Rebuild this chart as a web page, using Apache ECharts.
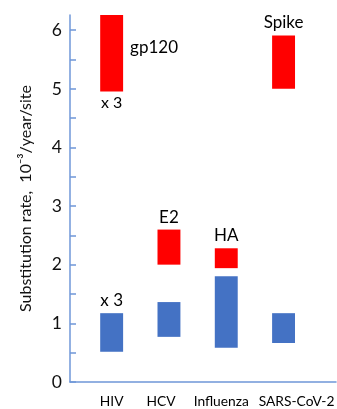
<!DOCTYPE html>
<html><head><meta charset="utf-8">
<script src="https://cdn.jsdelivr.net/npm/echarts@6/dist/echarts.min.js"></script>
<style>html,body{margin:0;padding:0;background:#fff}#c{width:337px;height:409px}</style>
</head><body><div id="c"></div>
<script>
var categories = ['HIV', 'HCV', 'Influenza', 'SARS-CoV-2'];
var redLow  = [4.95, 1.99, 1.93, 5.00];
var redHigh = [6.26, 2.59, 2.27, 5.91];
var blueLow  = [0.50, 0.755, 0.57, 0.65];
var blueHigh = [1.16, 1.35, 1.79, 1.16];
var redNotes = ['gp120', 'E2', 'HA', 'Spike'];
var redBelowNotes = ['x 3', '', '', ''];
var blueNotes = ['x 3', '', '', ''];
var yTickLabels = [0, 1, 2, 3, 4, 5, 6];
var yTicks = [0, 0.5, 1, 1.5, 2, 2.5, 3, 3.5, 4, 4.5, 5, 5.5, 6];

var FONT = 'Lato, "Open Sans", sans-serif';
var AXIS_COLOR = '#6f97d8';

function makeRender(color, topNotes, belowNotes) {
  return function (params, api) {
    var idx = api.value(0);
    var p1 = api.coord([idx, api.value(2)]);
    var p0 = api.coord([idx, api.value(1)]);
    var w = api.size([1, 0])[0] * 0.4;
    var x = p1[0] - w / 2, y = p1[1], h = p0[1] - p1[1];
    var children = [{
      type: 'rect', shape: {x: x, y: y, width: w, height: h},
      style: {fill: color}
    }];
    var note = topNotes[idx];
    if (note) {
      if (idx === 0 && color === '#ff0000') {
        children.push({type: 'text', style: {text: note, x: x + w + 7, y: y + h / 2 - 6,
          align: 'left', verticalAlign: 'middle', font: '17px ' + FONT, fill: '#000'}});
      } else {
        children.push({type: 'text', style: {text: note, x: p1[0], y: y - 4,
          align: 'center', verticalAlign: 'bottom', font: '17px ' + FONT, fill: '#000'}});
      }
    }
    var bn = belowNotes && belowNotes[idx];
    if (bn) {
      children.push({type: 'text', style: {text: bn, x: p1[0], y: y + h + 3,
        align: 'center', verticalAlign: 'top', font: '16px ' + FONT, fill: '#000'}});
    }
    return {type: 'group', children: children};
  };
}

function rows(low, high) {
  return categories.map(function (c, i) { return [i, low[i], high[i]]; });
}

var XF = 13.8;
var chart = echarts.init(document.getElementById('c'), null, {renderer: 'canvas'});
chart.setOption({
  animation: false,
  backgroundColor: '#fff',
  grid: [
    {left: 70, right: 1, top: 15, bottom: 27},
    {left: 83, width: 233, top: 15, bottom: 27}
  ],
  xAxis: [
    {type: 'category', gridIndex: 0, data: categories,
      axisLine: {show: true, lineStyle: {color: AXIS_COLOR, width: 1.5}},
      axisTick: {show: false}, axisLabel: {show: false}, splitLine: {show: false}},
    {type: 'category', gridIndex: 1, data: categories,
      axisLine: {show: false}, axisTick: {show: false}, splitLine: {show: false},
      axisLabel: {show: true, margin: 14, fontSize: XF, fontFamily: FONT, color: '#000',
        interval: 0,
        formatter: function (v, i) { return '{l' + i + '|' + v + '}'; },
        rich: {
          l0: {fontSize: XF, fontFamily: FONT, color: '#000'},
          l1: {fontSize: XF, fontFamily: FONT, color: '#000', padding: [0, 16, 0, 0]},
          l2: {fontSize: XF, fontFamily: FONT, color: '#000', padding: [0, 10, 0, 0]},
          l3: {fontSize: XF, fontFamily: FONT, color: '#000', padding: [0, 0, 0, 26]}
        }}}
  ],
  yAxis: [
    {type: 'value', gridIndex: 0, min: 0, max: 6.26,
      axisLine: {show: true, lineStyle: {color: AXIS_COLOR, width: 1.5}},
      axisTick: {show: true, inside: true, length: 6, customValues: yTicks,
        lineStyle: {color: AXIS_COLOR, width: 1.5}},
      axisLabel: {show: true, customValues: yTickLabels, margin: 8, fontSize: 17.5,
        fontFamily: FONT, color: '#111'},
      splitLine: {show: false},
      name: 'Substitution rate,  10\u207B\u00B3/year/site', nameLocation: 'middle',
      nameGap: 36, nameRotate: 90,
      nameTextStyle: {fontSize: 16, fontFamily: FONT, color: '#111'}},
    {type: 'value', gridIndex: 1, min: 0, max: 6.26, show: false}
  ],
  series: [
    {type: 'custom', xAxisIndex: 1, yAxisIndex: 1, clip: false,
      renderItem: makeRender('#ff0000', redNotes, redBelowNotes),
      encode: {x: 0, y: [1, 2]}, data: rows(redLow, redHigh)},
    {type: 'custom', xAxisIndex: 1, yAxisIndex: 1, clip: false,
      renderItem: makeRender('#4472c4', blueNotes, null),
      encode: {x: 0, y: [1, 2]}, data: rows(blueLow, blueHigh)}
  ]
});
</script></body></html>
